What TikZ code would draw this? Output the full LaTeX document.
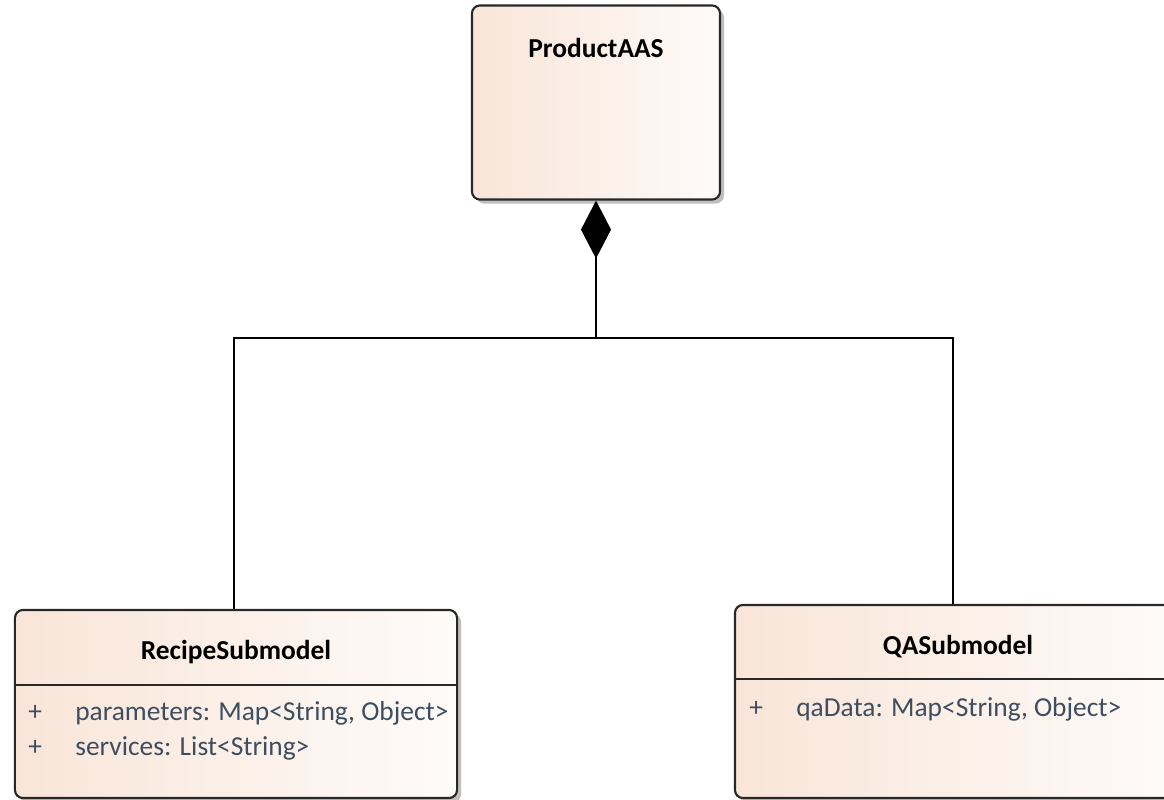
\documentclass[tikz,border=0pt]{standalone}
\usepackage{fontspec}
\setmainfont{Carlito}
\usetikzlibrary{arrows.meta,shadows}

\definecolor{boxleft}{RGB}{249,229,216}
\definecolor{boxright}{RGB}{254,251,249}
\definecolor{attrtext}{RGB}{62,78,96}
\definecolor{edgegray}{RGB}{40,40,40}

\tikzset{
  umlclass/.style={draw=edgegray, line width=1.5pt, rounded corners=0.2cm,
    left color=boxleft, right color=boxright,
    drop shadow={shadow xshift=0.1cm, shadow yshift=-0.1cm, opacity=0.25, fill=black}},
  classname/.style={font=\fontsize{19.5}{23}\selectfont\bfseries, text=black},
  attr/.style={font=\fontsize{19.5}{23}\selectfont, text=attrtext, anchor=west, inner sep=0pt},
  link/.style={draw=black, line width=1.4pt},
}

\begin{document}
\begin{tikzpicture}[x=0.025cm, y=-0.025cm]
    \useasboundingbox (0,0) rectangle (1164,800);

    \node[umlclass, minimum width=6.2cm, minimum height=4.85cm] (productaas) at (596,102.5) {};
    \node[umlclass, minimum width=11.05cm, minimum height=4.7cm] (recipe) at (236,704) {};
    \node[umlclass, minimum width=11.15cm, minimum height=4.825cm] (qa) at (958,701.5) {};

    \node[classname] (productaastitle) at (596,48) {ProductAAS};
    \node[classname] (recipetitle) at (236,652) {RecipeSubmodel};
    \node[classname] (qatitle) at (958,647) {QASubmodel};

    \coordinate (recipesep) at (0,685);
    \coordinate (qasep) at (0,679);
    \draw[edgegray, line width=1.5pt] (recipe.west |- recipesep) -- (recipe.east |- recipesep);
    \draw[edgegray, line width=1.5pt] (qa.west |- qasep) -- (qa.east |- qasep);

    \node[attr] (recipeplus1) at (28,713) {+};
    \node[attr] (recipeattr1) at (75,713) {parameters: Map<String, Object>};
    \node[attr] (recipeplus2) at (28,748) {+};
    \node[attr] (recipeattr2) at (75,748) {services: List<String>};
    \node[attr] (qaplus1) at (749,709) {+};
    \node[attr] (qaattr1) at (796,709) {qaData: Map<String, Object>};

    \coordinate (junction) at (productaas.south |- 0,338);
    \draw[link, {Diamond[length=1.45cm, width=0.75cm]}-] (productaas.south) -- (junction);
    \draw[link] (junction) -| ([xshift=-0.05cm]recipe.north);
    \draw[link] (junction) -| ([xshift=-0.125cm]qa.north);

\end{tikzpicture}
\end{document}
